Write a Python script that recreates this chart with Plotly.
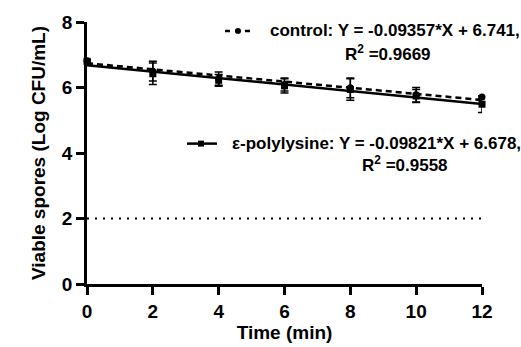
import plotly.graph_objects as go

time_min = [0, 2, 4, 6, 8, 10, 12]
control = [6.82, 6.50, 6.27, 6.09, 5.99, 5.78, 5.71]
control_sd = [0.04, 0.30, 0.20, 0.20, 0.30, 0.22, 0.04]
polylysine = [6.80, 6.42, 6.22, 6.05, 5.94, 5.74, 5.49]
polylysine_sd = [0.04, 0.33, 0.18, 0.22, 0.33, 0.20, 0.25]
fit_control = (-0.09357, 6.741)
fit_poly = (-0.09821, 6.678)
limit_y = 2
x_ticks = [0, 2, 4, 6, 8, 10, 12]
y_ticks = [0, 2, 4, 6, 8]

FONT = "Liberation Sans, Arial, sans-serif"
fig = go.Figure()

xfit = [0, 12]
fig.add_trace(go.Scatter(x=xfit, y=[fit_poly[1] + fit_poly[0] * v for v in xfit], mode="lines",
                         line=dict(color="black", width=2.5), hoverinfo="skip", showlegend=False))
fig.add_trace(go.Scatter(x=xfit, y=[fit_control[1] + fit_control[0] * v for v in xfit], mode="lines",
                         line=dict(color="black", width=2.5, dash="6px,4px"), hoverinfo="skip", showlegend=False))
fig.add_trace(go.Scatter(x=[0, 12], y=[limit_y, limit_y], mode="lines",
                         line=dict(color="black", width=2, dash="2px,6px"), showlegend=False))
fig.add_trace(go.Scatter(x=time_min, y=control, mode="markers",
                         marker=dict(symbol="circle", size=7, color="black"),
                         error_y=dict(type="data", array=control_sd, color="black", thickness=1.5, width=4),
                         cliponaxis=False, showlegend=False))
fig.add_trace(go.Scatter(x=time_min, y=polylysine, mode="markers",
                         marker=dict(symbol="square", size=7, color="black"),
                         error_y=dict(type="data", array=polylysine_sd, color="black", thickness=1.5, width=4),
                         cliponaxis=False, showlegend=False))

W, H = 521, 347
ml, mr, mt, mb = 87, 39, 20, 62
pw, ph = W - ml - mr, H - mt - mb

def px(x):
    return (x - ml) / pw

def py(y):
    return 1 - (y - mt) / ph

shapes = []
# legend symbol: control
shapes.append(dict(type="line", xref="paper", yref="paper", x0=px(225), x1=px(255), y0=py(29), y1=py(29),
                   line=dict(color="black", width=2.5, dash="5px,5px")))
shapes.append(dict(type="circle", xref="paper", yref="paper", x0=px(235), x1=px(241), y0=py(26), y1=py(32),
                   fillcolor="black", line=dict(color="black", width=0)))
# legend symbol: polylysine
shapes.append(dict(type="line", xref="paper", yref="paper", x0=px(187), x1=px(217), y0=py(143), y1=py(143),
                   line=dict(color="black", width=2.5)))
shapes.append(dict(type="rect", xref="paper", yref="paper", x0=px(198), x1=px(204), y0=py(140), y1=py(146),
                   fillcolor="black", line=dict(color="black", width=0)))

ann_font = dict(family=FONT, size=17, color="black", weight="bold")
annotations = [
    dict(x=px(268), y=py(29), xref="paper", yref="paper", xanchor="left", yanchor="middle",
         text="control: Y = -0.09357*X + 6.741,", showarrow=False, font=ann_font),
    dict(x=px(388), y=py(51), xref="paper", yref="paper", xanchor="center", yanchor="middle",
         text="R<sup>2</sup> =0.9669", showarrow=False, font=ann_font),
    dict(x=px(230), y=py(143), xref="paper", yref="paper", xanchor="left", yanchor="middle",
         text="ε-polylysine: Y = -0.09821*X + 6.678,", showarrow=False, font=ann_font),
    dict(x=px(405), y=py(164), xref="paper", yref="paper", xanchor="center", yanchor="middle",
         text="R<sup>2</sup> =0.9558", showarrow=False, font=ann_font),
]

tick_font = dict(family=FONT, size=19, color="black", weight="bold")
title_font = dict(family=FONT, size=19, color="black", weight="bold")
fig.update_layout(
    width=W, height=H, margin=dict(l=ml, r=mr, t=mt, b=mb),
    plot_bgcolor="white", paper_bgcolor="white",
    shapes=shapes, annotations=annotations,
    xaxis=dict(range=[0, 12], tickvals=x_ticks, ticks="outside", ticklen=8, tickwidth=2.5,
               tickcolor="black", showline=True, linecolor="black", linewidth=2.5, showgrid=False,
               zeroline=False, tickfont=tick_font,
               title=dict(text="Time (min)", font=title_font, standoff=0)),
    yaxis=dict(range=[0, 8], tickvals=y_ticks, ticks="outside", ticklen=8, tickwidth=2.5,
               tickcolor="black", showline=True, linecolor="black", linewidth=2.5, showgrid=False,
               zeroline=False, tickfont=tick_font,
               title=dict(text="Viable spores (Log CFU/mL)", font=title_font, standoff=12)),
)

fig.write_html("out.html")
